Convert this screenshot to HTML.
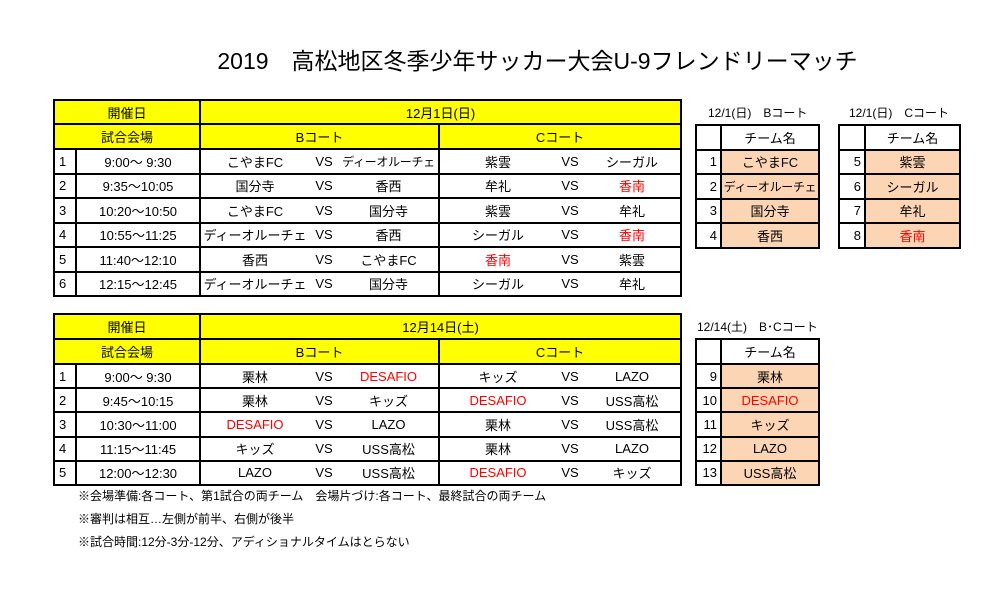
<!DOCTYPE html>
<html><head><meta charset="utf-8"><style>
body{margin:0;width:1005px;height:596px;background:#fff;position:relative;overflow:hidden;font-family:"Liberation Sans","Noto Sans CJK JP",sans-serif;color:#000}
.abs{position:absolute}
table{border-collapse:collapse;table-layout:fixed;position:absolute;font-size:13px}
td{border:2px solid #000;padding:0;text-align:center;white-space:nowrap;overflow:hidden}
td.n{text-align:left;padding-left:4px}
td.nb{border-left:none;border-right:none}
td.l{border-right:none}
td.r{border-left:none}
.y td{background:#ffff00}
.p{background:#fcd5b4}
.red{color:#ff0000}
.sn{text-align:right;padding-right:3px}
.sm{font-size:12px;letter-spacing:-0.3px}
.cap{position:absolute;font-size:12px}
.note{position:absolute;left:78px;font-size:12px}
</style></head><body>
<div class="abs" style="left:0;width:1075px;top:42px;text-align:center;font-size:23px;">2019　高松地区冬季少年サッカー大会U-9フレンドリーマッチ</div>

<table style="left:53px;top:99px;width:627px">
<colgroup><col style="width:22px"><col style="width:124px"><col style="width:109px"><col style="width:30px"><col style="width:100px"><col style="width:117px"><col style="width:28px"><col style="width:97px"></colgroup>
<tr class="y" style="height:24px"><td colspan="2">開催日</td><td colspan="6">12月1日(日)</td></tr>
<tr class="y" style="height:25px"><td colspan="2">試合会場</td><td colspan="3">Bコート</td><td colspan="3">Cコート</td></tr>
<tr style="height:24.5px"><td class="n">1</td><td>9:00～ 9:30</td><td class="l">こやまFC</td><td class="nb">VS</td><td class="r sm">ディーオルーチェ</td><td class="l">紫雲</td><td class="nb">VS</td><td class="r">シーガル</td></tr>
<tr style="height:24.5px"><td class="n">2</td><td>9:35～10:05</td><td class="l">国分寺</td><td class="nb">VS</td><td class="r">香西</td><td class="l">牟礼</td><td class="nb">VS</td><td class="r red">香南</td></tr>
<tr style="height:24.5px"><td class="n">3</td><td>10:20～10:50</td><td class="l">こやまFC</td><td class="nb">VS</td><td class="r">国分寺</td><td class="l">紫雲</td><td class="nb">VS</td><td class="r">牟礼</td></tr>
<tr style="height:24.5px"><td class="n">4</td><td>10:55～11:25</td><td class="l">ディーオルーチェ</td><td class="nb">VS</td><td class="r">香西</td><td class="l">シーガル</td><td class="nb">VS</td><td class="r red">香南</td></tr>
<tr style="height:24.5px"><td class="n">5</td><td>11:40～12:10</td><td class="l">香西</td><td class="nb">VS</td><td class="r">こやまFC</td><td class="l red">香南</td><td class="nb">VS</td><td class="r">紫雲</td></tr>
<tr style="height:24.5px"><td class="n">6</td><td>12:15～12:45</td><td class="l">ディーオルーチェ</td><td class="nb">VS</td><td class="r">国分寺</td><td class="l">シーガル</td><td class="nb">VS</td><td class="r">牟礼</td></tr>
</table>

<table style="left:53px;top:313px;width:627px">
<colgroup><col style="width:22px"><col style="width:124px"><col style="width:109px"><col style="width:30px"><col style="width:100px"><col style="width:117px"><col style="width:28px"><col style="width:97px"></colgroup>
<tr class="y" style="height:25px"><td colspan="2">開催日</td><td colspan="6">12月14日(土)</td></tr>
<tr class="y" style="height:25px"><td colspan="2">試合会場</td><td colspan="3">Bコート</td><td colspan="3">Cコート</td></tr>
<tr style="height:24.2px"><td class="n">1</td><td>9:00～ 9:30</td><td class="l">栗林</td><td class="nb">VS</td><td class="r red">DESAFIO</td><td class="l">キッズ</td><td class="nb">VS</td><td class="r">LAZO</td></tr>
<tr style="height:24.2px"><td class="n">2</td><td>9:45～10:15</td><td class="l">栗林</td><td class="nb">VS</td><td class="r">キッズ</td><td class="l red">DESAFIO</td><td class="nb">VS</td><td class="r">USS高松</td></tr>
<tr style="height:24.2px"><td class="n">3</td><td>10:30～11:00</td><td class="l red">DESAFIO</td><td class="nb">VS</td><td class="r">LAZO</td><td class="l">栗林</td><td class="nb">VS</td><td class="r">USS高松</td></tr>
<tr style="height:24.2px"><td class="n">4</td><td>11:15～11:45</td><td class="l">キッズ</td><td class="nb">VS</td><td class="r">USS高松</td><td class="l">栗林</td><td class="nb">VS</td><td class="r">LAZO</td></tr>
<tr style="height:24.2px"><td class="n">5</td><td>12:00～12:30</td><td class="l">LAZO</td><td class="nb">VS</td><td class="r">USS高松</td><td class="l red">DESAFIO</td><td class="nb">VS</td><td class="r">キッズ</td></tr>
</table>

<div class="cap" style="left:708px;top:104px">12/1(日)　Bコート</div>
<table style="left:695px;top:124px;width:123px">
<colgroup><col style="width:25px"><col style="width:98px"></colgroup>
<tr style="height:24.5px"><td></td><td>チーム名</td></tr>
<tr style="height:24.5px"><td class="sn">1</td><td class="p">こやまFC</td></tr>
<tr style="height:24.5px"><td class="sn">2</td><td class="p sm">ディーオルーチェ</td></tr>
<tr style="height:24.5px"><td class="sn">3</td><td class="p">国分寺</td></tr>
<tr style="height:24.5px"><td class="sn">4</td><td class="p">香西</td></tr>
</table>

<div class="cap" style="left:849px;top:104px">12/1(日)　Cコート</div>
<table style="left:838px;top:124px;width:121px">
<colgroup><col style="width:26px"><col style="width:95px"></colgroup>
<tr style="height:24.5px"><td></td><td>チーム名</td></tr>
<tr style="height:24.5px"><td class="sn">5</td><td class="p">紫雲</td></tr>
<tr style="height:24.5px"><td class="sn">6</td><td class="p">シーガル</td></tr>
<tr style="height:24.5px"><td class="sn">7</td><td class="p">牟礼</td></tr>
<tr style="height:24.5px"><td class="sn">8</td><td class="p red">香南</td></tr>
</table>

<div class="cap" style="left:697px;top:318px">12/14(土)　B･Cコート</div>
<table style="left:695px;top:338px;width:123px">
<colgroup><col style="width:25px"><col style="width:98px"></colgroup>
<tr style="height:25px"><td></td><td>チーム名</td></tr>
<tr style="height:24.2px"><td class="sn">9</td><td class="p">栗林</td></tr>
<tr style="height:24.2px"><td class="sn">10</td><td class="p red">DESAFIO</td></tr>
<tr style="height:24.2px"><td class="sn">11</td><td class="p">キッズ</td></tr>
<tr style="height:24.2px"><td class="sn">12</td><td class="p">LAZO</td></tr>
<tr style="height:24.2px"><td class="sn">13</td><td class="p">USS高松</td></tr>
</table>

<div class="note" style="top:487px">※会場準備:各コート、第1試合の両チーム　会場片づけ:各コート、最終試合の両チーム</div>
<div class="note" style="top:510px">※審判は相互…左側が前半、右側が後半</div>
<div class="note" style="top:533px">※試合時間:12分-3分-12分、アディショナルタイムはとらない</div>
</body></html>
